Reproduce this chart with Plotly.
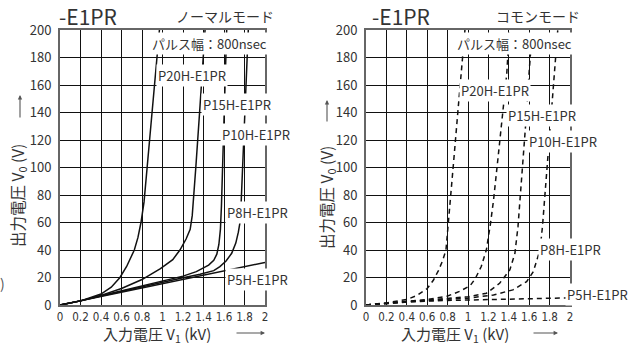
import plotly.graph_objects as go

W, H = 641, 345

# ---- Normal mode (left, solid) ----
n_p20h_x = [0, 0.2, 0.4, 0.5, 0.585, 0.65, 0.725, 0.76, 0.79, 0.82, 0.85, 0.90, 0.935, 0.97]
n_p20h_y = [0, 3, 8, 13, 20, 28, 40, 49, 60, 75, 100, 142, 170, 200]
n_p15h_x = [0, 0.2, 0.4, 0.6, 0.8, 0.98, 1.1, 1.17, 1.23, 1.27, 1.29, 1.30, 1.325, 1.36, 1.395, 1.415]
n_p15h_y = [0, 3, 7, 12, 18.5, 26.5, 33, 40, 48, 55, 65, 74, 100, 138, 176, 200]
n_p10h_x = [0, 0.2, 0.4, 0.8, 1.0, 1.2, 1.33, 1.45, 1.5, 1.53, 1.55, 1.565, 1.575, 1.586, 1.602, 1.626]
n_p10h_y = [0, 3, 6.8, 13.8, 17.5, 21, 24.3, 29, 32.5, 37, 44, 55, 72, 100, 140, 200]
n_p8h_x = [0, 0.2, 0.4, 0.8, 1.0, 1.2, 1.366, 1.5, 1.56, 1.62, 1.675, 1.715, 1.74, 1.756, 1.766, 1.782, 1.809, 1.837]
n_p8h_y = [0, 3, 6.6, 13.3, 16.8, 19.8, 22.3, 25, 27.9, 32, 37.6, 45, 53, 60, 72, 100, 150, 200]
n_p5h_x = [0, 1.0, 2.0]
n_p5h_y = [0, 15.5, 31]

# ---- Common mode (right, dashed) ----
c_p20h_x = [0, 0.2, 0.4, 0.5, 0.6, 0.66, 0.71, 0.75, 0.784, 0.80, 0.82, 0.86, 0.90, 0.935, 0.97]
c_p20h_y = [0, 1.5, 4, 7, 12, 18, 25, 32, 40, 55, 74, 105, 140, 170, 200]
c_p15h_x = [0, 0.2, 0.4, 0.6, 0.8, 0.92, 1.02, 1.07, 1.13, 1.18, 1.22, 1.25, 1.30, 1.34, 1.38, 1.405]
c_p15h_y = [0, 1.2, 2.5, 4, 6.5, 10, 14, 19, 28, 40, 59, 76, 111, 140, 168, 200]
c_p10h_x = [0, 0.4, 0.8, 1.0, 1.18, 1.31, 1.41, 1.46, 1.49, 1.51, 1.54, 1.565, 1.60, 1.63]
c_p10h_y = [0, 2.5, 5, 6, 8.5, 15.8, 25.5, 37.6, 57, 76, 106, 131, 170, 200]
c_p8h_x = [0, 0.4, 0.8, 1.0, 1.25, 1.44, 1.575, 1.64, 1.706, 1.73, 1.75, 1.778, 1.815, 1.85, 1.88]
c_p8h_y = [0, 2.3, 4.2, 5, 7.3, 11, 17, 24.2, 40, 57, 76, 102, 138, 172, 200]
c_p5h_x = [0, 0.2, 0.4, 0.8, 1.2, 1.6, 2.0]
c_p5h_y = [0, 1.3, 2.3, 3.3, 4.0, 4.6, 5.2]

x_tickvals = [0, 0.2, 0.4, 0.6, 0.8, 1.0, 1.2, 1.4, 1.6, 1.8, 2.0]
x_ticktext = ["0", "0.2", "0.4", "0.6", "0.8", "1", "1.2", "1.4", "1.6", "1.8", "2"]
y_tickvals = [0, 20, 40, 60, 80, 100, 120, 140, 160, 180, 200]
y_ticktext = [str(v) for v in y_tickvals]

series_names = ["P20H-E1PR", "P15H-E1PR", "P10H-E1PR", "P8H-E1PR", "P5H-E1PR"]

JP = "Noto Sans CJK JP, Noto Sans, sans-serif"
NARROW = "Liberation Sans Narrow, DejaVu Sans Condensed, Roboto Condensed, sans-serif"
TXT = "#333333"

fig = go.Figure()
normal = [(n_p20h_x, n_p20h_y), (n_p15h_x, n_p15h_y), (n_p10h_x, n_p10h_y),
          (n_p8h_x, n_p8h_y), (n_p5h_x, n_p5h_y)]
common = [(c_p20h_x, c_p20h_y), (c_p15h_x, c_p15h_y), (c_p10h_x, c_p10h_y),
          (c_p8h_x, c_p8h_y), (c_p5h_x, c_p5h_y)]
for name, (xs, ys) in zip(series_names, normal):
    fig.add_trace(go.Scatter(x=xs, y=ys, mode="lines", name=name,
                             line=dict(color="#111111", width=1.5),
                             xaxis="x", yaxis="y", showlegend=False))
for name, (xs, ys) in zip(series_names, common):
    fig.add_trace(go.Scatter(x=xs, y=ys, mode="lines", name=name,
                             line=dict(color="#111111", width=1.5, dash="5px,4px"),
                             xaxis="x2", yaxis="y2", showlegend=False))

def px(p):
    return p / W

def py(p):
    return 1 - p / H

ydom = [py(305), py(30)]
axis_common = dict(showgrid=True, gridcolor="#111111", gridwidth=1.3,
                   showline=True, linecolor="#666666", linewidth=2, mirror=True,
                   zeroline=False, ticks="", fixedrange=True, automargin=False)
xa = dict(range=[0, 2], tickvals=x_tickvals, ticktext=x_ticktext, tickangle=0,
          tickfont=dict(family=NARROW, size=11.5, color=TXT), ticklabelstandoff=0, **axis_common)
ya = dict(range=[0, 200], tickvals=y_tickvals, ticktext=y_ticktext,
          tickfont=dict(family=JP, size=13, color=TXT), ticklabelstandoff=4, **axis_common)

fig.update_layout(
    width=W, height=H, margin=dict(l=0, r=0, t=0, b=0, autoexpand=False),
    paper_bgcolor="white", plot_bgcolor="white",
    xaxis=dict(domain=[px(60), px(265)], anchor="y", **xa),
    yaxis=dict(domain=ydom, anchor="x", **ya),
    xaxis2=dict(domain=[px(366), px(570)], anchor="y2", **xa),
    yaxis2=dict(domain=ydom, anchor="x2", **ya),
)

ann = []
lab_font = dict(family=JP, size=13, color=TXT)

def label(text, xref, yref, x, y, xanchor="left"):
    ann.append(dict(text=text, xref=xref, yref=yref, x=x, y=y, xanchor=xanchor,
                    yanchor="middle", showarrow=False, bgcolor="white",
                    borderpad=1, font=lab_font))

# left plot labels (data coordinates)
label("P20H-E1PR", "x", "y", 0.94, 167)
label("P15H-E1PR", "x", "y", 1.38, 146)
label("P10H-E1PR", "x", "y", 1.565, 124)
label("P8H-E1PR", "x", "y", 1.61, 67)
label("P5H-E1PR", "x", "y", 1.61, 18.7)
label("パルス幅：800nsec", "x", "y", 0.88, 190)
# right plot labels
label("P20H-E1PR", "x2", "y2", 0.91, 156)
label("P15H-E1PR", "x2", "y2", 1.37, 138)
label("P10H-E1PR", "x2", "y2", 1.575, 119)
label("P8H-E1PR", "x2", "y2", 1.686, 40)
label("P5H-E1PR", "x2", "y2", 1.95, 8)
label("パルス幅：800nsec", "x2", "y2", 0.87, 190)

def ptext(text, x, y, size, xanchor="left", angle=0, color=TXT, family=JP):
    ann.append(dict(text=text, xref="paper", yref="paper", x=px(x), y=py(y),
                    xanchor=xanchor, yanchor="middle", showarrow=False,
                    textangle=angle, font=dict(family=family, size=size, color=color)))

ptext("-E1PR", 57, 16, 21)
ptext("ノーマルモード", 225, 16, 14, xanchor="center")
ptext("-E1PR", 370, 16, 21)
ptext("コモンモード", 538, 16, 14, xanchor="center")
ptext("入力電圧 V<sub>1</sub> (kV)", 157, 334.5, 15, xanchor="center")
ptext("入力電圧 V<sub>1</sub> (kV)", 455, 334.5, 15, xanchor="center")
ptext("出力電圧 V<sub>0</sub> (V)", 18, 196, 15.5, xanchor="center", angle=-90)
ptext("出力電圧 V<sub>0</sub> (V)", 327, 198, 15.5, xanchor="center", angle=-90)
ptext(")", -2, 283, 14, color="#555555")

def arrow(hx, hy, dx, dy):
    ann.append(dict(text="", xref="paper", yref="paper", x=px(hx), y=py(hy),
                    ax=dx, ay=dy, axref="pixel", ayref="pixel", showarrow=True,
                    arrowhead=2, arrowsize=0.8, arrowwidth=1.1, arrowcolor="#555555"))

arrow(265, 333, -30, 0)
arrow(558, 333, -26, 0)
arrow(20, 95, 0, 24)
arrow(327, 100, 0, 23)

fig.update_layout(annotations=ann)
fig.write_html(
    "out.html",
    config={"displayModeBar": False},
    post_script="document.body.style.margin='0';document.body.style.overflow='hidden';",
)
